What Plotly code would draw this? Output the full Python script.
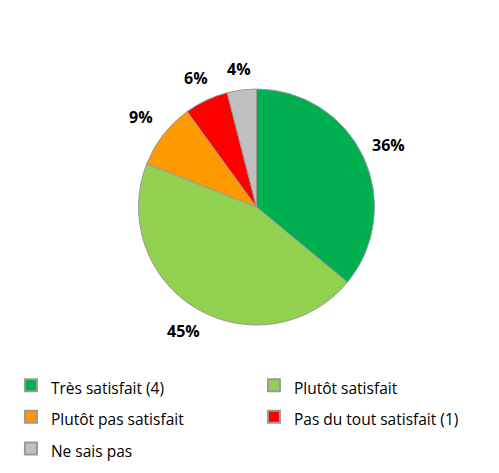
import math
import plotly.graph_objects as go

labels = ["Très satisfait (4)", "Plutôt satisfait", "Plutôt pas satisfait",
          "Pas du tout satisfait (1)", "Ne sais pas"]
values = [36, 45, 9, 6, 4]
colors = ["#00B050", "#92D050", "#FF9900", "#FF0000", "#C0C0C0"]

# the page body has an 8px margin, so the figure is a bit smaller than the window
W, H = 491, 465
dom_x = [0.2648, 0.7475]
dom_y = [0.3183, 0.8258]

fig = go.Figure(go.Pie(
    labels=[f"<span style='font-size:15.5px'>{l}</span>" for l in labels],
    values=values,
    sort=False,
    direction="clockwise",
    rotation=0,
    marker=dict(colors=colors, line=dict(color="#999999", width=1)),
    textinfo="none",
    domain=dict(x=dom_x, y=dom_y),
    hovertemplate="%{label}: %{percent}<extra></extra>",
))

# percentage labels outside the slices: label box sits a small gap beyond the rim
cx = (dom_x[0] + dom_x[1]) / 2
cy = (dom_y[0] + dom_y[1]) / 2
radius = min((dom_x[1] - dom_x[0]) * W, (dom_y[1] - dom_y[0]) * H) / 2
half_w, half_h, gap = 16.5, 10, 9
total = sum(values)
cum = 0
for v in values:
    mid = (cum + v / 2) / total * 2 * math.pi
    cum += v
    ux, uy = math.sin(mid), math.cos(mid)
    dist = radius + gap + half_w * abs(ux) + half_h * abs(uy)
    fig.add_annotation(
        x=cx + dist * ux / W,
        y=cy + dist * uy / H,
        xref="paper", yref="paper",
        xanchor="center", yanchor="middle",
        text=f"<b>{round(v / total * 100)}%</b>",
        showarrow=False,
        font=dict(size=16, color="black", family="Open Sans"),
    )

fig.update_layout(
    width=W, height=H,
    margin=dict(l=0, r=0, t=0, b=0, autoexpand=False),
    paper_bgcolor="white",
    font=dict(family="Open Sans", size=14, color="black"),
    showlegend=True,
    legend=dict(
        orientation="h",
        x=0.006, y=0.2335, xanchor="left", yanchor="top",
        entrywidth=198, entrywidthmode="pixels",
        font=dict(size=22),
        itemsizing="constant",
    ),
)

fig.write_html("out.html")
